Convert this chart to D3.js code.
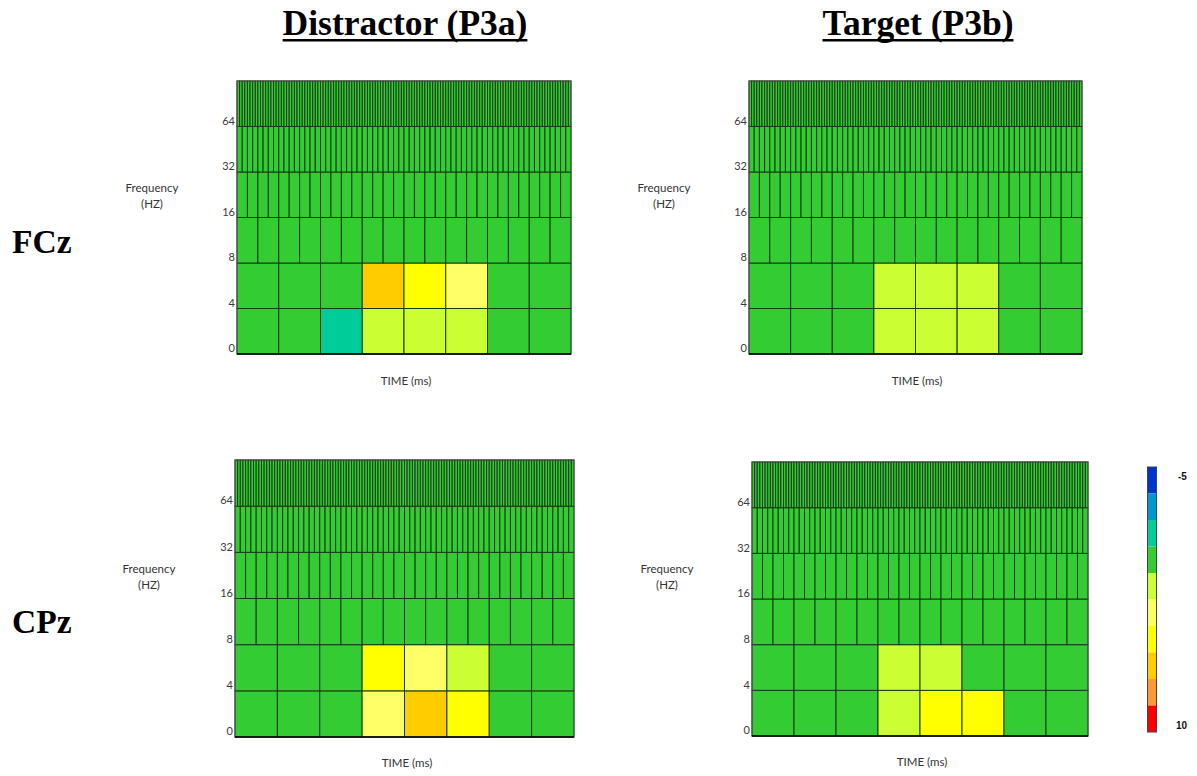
<!DOCTYPE html>
<html>
<head>
<meta charset="utf-8">
<script src="https://cdn.jsdelivr.net/npm/d3@7"></script>
<style>
  html, body { margin: 0; padding: 0; background: #fff; }
  svg { display: block; }
</style>
</head>
<body>
<svg id="chart" width="1197" height="776"></svg>
<script>
// ---------------- DATA ----------------
const conditions = ["Distractor (P3a)", "Target (P3b)"];
const electrodes = ["FCz", "CPz"];
// frequency band edges (Hz) and number of time bins in each band (wavelet-packet tiling)
const bandEdges = [0, 4, 8, 16, 32, 64, 128];
const bandBins = [8, 8, 16, 32, 64, 128];
const freqTickLabels = ["0", "4", "8", "16", "32", "64"];
// baseline value of the higher bands (8-128 Hz), one per band
const highBandValues = [0, 0, 0, 0];
// 0-4 Hz and 4-8 Hz band values (8 time bins each) per panel
const fczDistractor0to4 = [0, 0, -1.2, 1.8, 1.8, 1.8, 0, 0];
const fczDistractor4to8 = [0, 0, 0, 6.2, 4.8, 3.2, 0, 0];
const fczTarget0to4     = [0, 0, 0, 1.8, 1.8, 1.8, 0, 0];
const fczTarget4to8     = [0, 0, 0, 1.8, 1.8, 1.8, 0, 0];
const cpzDistractor0to4 = [0, 0, 0, 3.2, 6.2, 4.8, 0, 0];
const cpzDistractor4to8 = [0, 0, 0, 4.8, 3.2, 1.8, 0, 0];
const cpzTarget0to4     = [0, 0, 0, 1.8, 4.8, 4.8, 0, 0];
const cpzTarget4to8     = [0, 0, 0, 1.8, 1.8, 0, 0, 0];
// colour bar
const colorDomain = [-5, 10];
const colorSteps = ["#0033cc", "#0099cc", "#00cc99", "#33cc33", "#ccff33",
                    "#ffff66", "#ffff00", "#ffcc00", "#ff9933", "#ff0000"];
const colorbarLabels = ["-5", "10"];

// ---------------- LAYOUT ----------------
const panels = [
  { cond: 0, elec: 0, low: fczDistractor0to4, mid: fczDistractor4to8, x0: 237, x1: 571, y0: 81,  y1: 354, fx: 152, fy: 192, tx: 406, ty: 385 },
  { cond: 1, elec: 0, low: fczTarget0to4,     mid: fczTarget4to8,     x0: 749, x1: 1082, y0: 81, y1: 354, fx: 664, fy: 192, tx: 917, ty: 385 },
  { cond: 0, elec: 1, low: cpzDistractor0to4, mid: cpzDistractor4to8, x0: 235, x1: 574, y0: 460, y1: 737, fx: 149, fy: 573, tx: 407, ty: 767 },
  { cond: 1, elec: 1, low: cpzTarget0to4,     mid: cpzTarget4to8,     x0: 752, x1: 1088, y0: 462, y1: 736, fx: 667, fy: 573, tx: 922, ty: 766 }
];

const svg = d3.select("#chart");
const color = d3.scaleQuantize().domain(colorDomain).range(colorSteps);

// Titles
const titleX = [405, 918];
conditions.forEach((c, i) => {
  const t = svg.append("text")
    .attr("x", titleX[i]).attr("y", 35)
    .attr("text-anchor", "middle")
    .attr("font-family", "'Liberation Serif', 'Times New Roman', serif")
    .attr("font-weight", "bold")
    .attr("font-size", 35.5)
    .attr("fill", "#000")
    .text(c);
  const bb = t.node().getBBox();
  svg.append("rect").attr("x", bb.x).attr("y", 39).attr("width", bb.width).attr("height", 2.5).attr("fill", "#000");
});

// Electrode labels
const elecY = [253, 633];
electrodes.forEach((e, i) => {
  svg.append("text")
    .attr("x", 12).attr("y", elecY[i])
    .attr("font-family", "'Liberation Serif', 'Times New Roman', serif")
    .attr("font-weight", "bold")
    .attr("font-size", 33.5)
    .attr("fill", "#000")
    .text(e);
});

panels.forEach(p => {
  const g = svg.append("g");
  const x = d3.scaleLinear().domain([0, 1]).range([p.x0, p.x1]);
  const y = d3.scaleLinear().domain([0, bandBins.length]).range([p.y1, p.y0]);

  const bandValues = [p.low, p.mid];
  const cells = [];
  bandBins.forEach((n, b) => {
    for (let i = 0; i < n; i++) {
      const v = b < 2 ? bandValues[b][i] : highBandValues[b - 2];
      cells.push({ band: b, t0: i / n, t1: (i + 1) / n, v });
    }
  });

  g.selectAll("rect.cell").data(cells).join("rect")
    .attr("class", "cell")
    .attr("x", d => x(d.t0))
    .attr("y", d => y(d.band + 1))
    .attr("width", d => x(d.t1) - x(d.t0))
    .attr("height", d => y(d.band) - y(d.band + 1))
    .attr("fill", d => color(d.v))
    .attr("stroke", "#163a16")
    .attr("stroke-width", 1);

  // outer frame
  g.append("rect")
    .attr("x", p.x0).attr("y", p.y0)
    .attr("width", p.x1 - p.x0).attr("height", p.y1 - p.y0)
    .attr("fill", "none").attr("stroke", "#555").attr("stroke-width", 1);
  g.append("line")
    .attr("x1", p.x0).attr("x2", p.x1).attr("y1", p.y1).attr("y2", p.y1)
    .attr("stroke", "#000").attr("stroke-width", 1.5);

  // frequency axis
  const axis = d3.axisLeft(y)
    .tickValues(d3.range(freqTickLabels.length))
    .tickFormat(i => freqTickLabels[i])
    .tickSize(0).tickPadding(2);
  const ag = g.append("g").attr("transform", `translate(${p.x0},0)`).call(axis);
  ag.select(".domain").remove();
  ag.selectAll("text")
    .attr("font-family", "Lato, 'Open Sans', sans-serif")
    .attr("font-size", 11)
    .attr("fill", "#3a3a3a")
    .attr("dy", "-0.2em");

  // axis titles
  const ft = g.append("text")
    .attr("x", p.fx).attr("y", p.fy)
    .attr("text-anchor", "middle")
    .attr("font-family", "Lato, 'Open Sans', sans-serif")
    .attr("font-size", 11.5)
    .attr("fill", "#333");
  ft.append("tspan").attr("x", p.fx).attr("dy", 0).text("Frequency");
  ft.append("tspan").attr("x", p.fx).attr("dy", 16).text("(HZ)");

  g.append("text")
    .attr("x", p.tx).attr("y", p.ty)
    .attr("text-anchor", "middle")
    .attr("font-family", "Lato, 'Open Sans', sans-serif")
    .attr("font-size", 11.5)
    .attr("fill", "#333")
    .text("TIME (ms)");
});

// colour bar
const cb = svg.append("g");
const cbY = d3.scaleLinear().domain(colorDomain).range([467, 732]);
const step = (colorDomain[1] - colorDomain[0]) / colorSteps.length;
cb.selectAll("rect.seg").data(colorSteps).join("rect")
  .attr("class", "seg")
  .attr("x", 1147.5)
  .attr("y", (c, i) => cbY(colorDomain[0] + i * step))
  .attr("width", 9)
  .attr("height", (c, i) => cbY(colorDomain[0] + (i + 1) * step) - cbY(colorDomain[0] + i * step))
  .attr("fill", c => c);
cb.append("rect")
  .attr("x", 1147.5).attr("y", cbY(colorDomain[0]))
  .attr("width", 9).attr("height", cbY(colorDomain[1]) - cbY(colorDomain[0]))
  .attr("fill", "none").attr("stroke", "#444").attr("stroke-width", 1);
cb.append("text").attr("x", 1178).attr("y", 480)
  .attr("font-family", "'Liberation Sans', Arial, sans-serif").attr("font-weight", "bold")
  .attr("font-size", 10).attr("fill", "#111").text(colorbarLabels[0]);
cb.append("text").attr("x", 1176).attr("y", 729)
  .attr("font-family", "'Liberation Sans', Arial, sans-serif").attr("font-weight", "bold")
  .attr("font-size", 10).attr("fill", "#111").text(colorbarLabels[1]);
</script>
</body>
</html>
